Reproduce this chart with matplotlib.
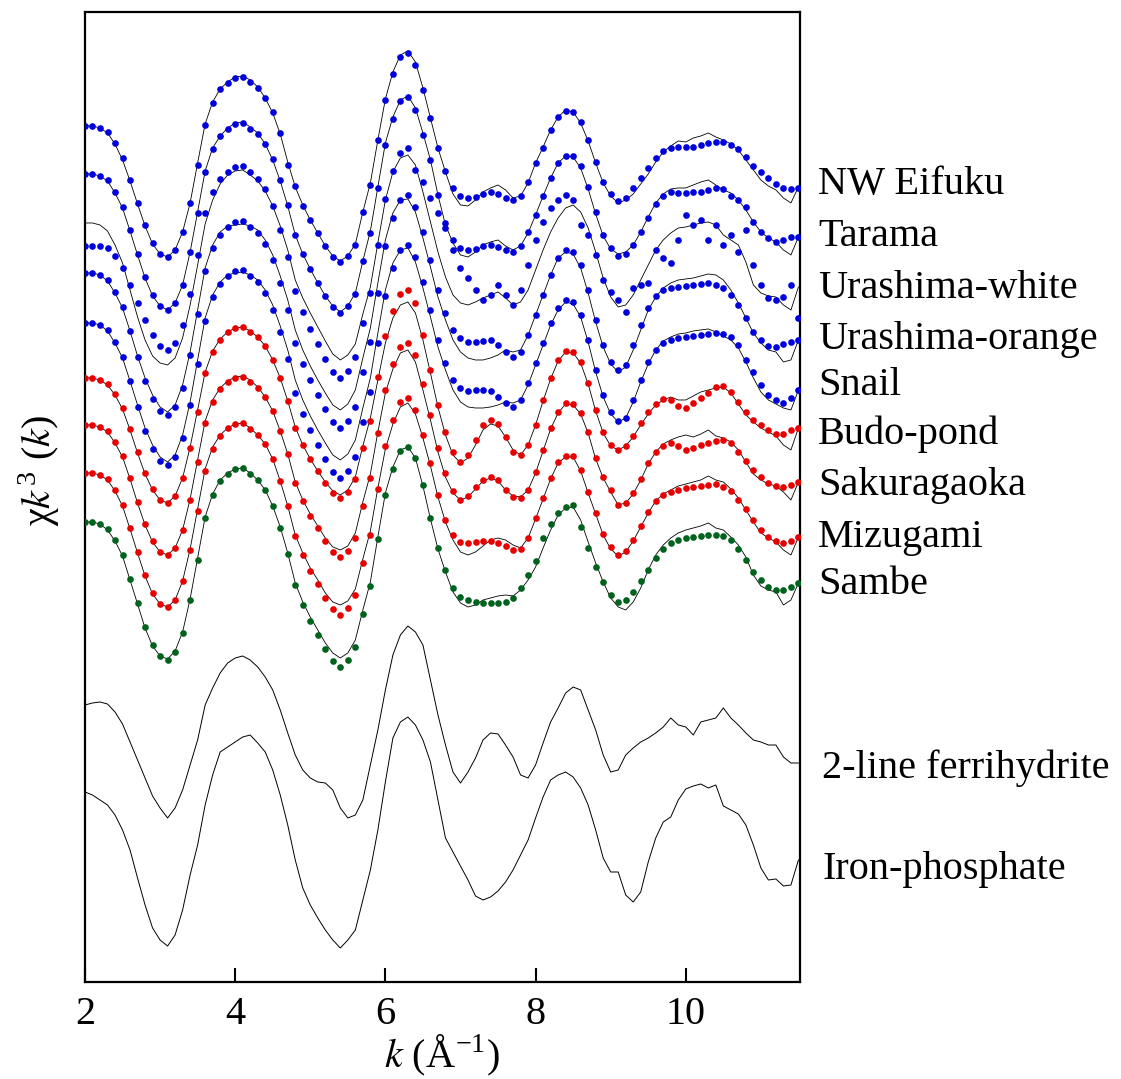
import numpy as np
import matplotlib.pyplot as plt

plt.rcParams['font.family'] = ['Liberation Serif', 'DejaVu Serif']
plt.rcParams['mathtext.fontset'] = 'stix'

# k grid (1/Angstrom)
k = np.round(np.arange(2.0, 11.55, 0.1), 2)

# stacked chi*k^3 traces (arbitrary units, offsets included,
# counted downward like the original page)
eifuku = [126, 126, 128, 132, 143, 158, 180, 203, 225, 243,
          254, 257, 250, 232, 203, 165, 125, 103, 89, 83,
          78, 77, 82, 88, 98, 112, 133, 165, 186, 206,
          220, 233, 246, 257, 262, 256, 245, 212, 185, 140,
          100, 74, 57, 53, 65, 90, 118, 148, 171, 188,
          196, 198, 197, 194, 192, 194, 198, 200, 196, 182,
          163, 148, 130, 117, 111, 112, 122, 140, 162, 182,
          194, 201, 198, 188, 178, 168, 158, 151, 148, 147,
          147, 147, 145, 143, 142, 142, 145, 149, 157, 166,
          172, 178, 184, 188, 189, 188]
eifuku_fit = [126, 126, 128, 133, 144, 160, 181, 204, 226, 244,
              254, 257, 250, 232, 203, 163, 124, 102, 89, 82,
              77, 76, 80, 87, 98, 113, 134, 162, 187, 205,
              220, 233, 246, 256, 261, 256, 244, 212, 183, 140,
              99, 72, 55, 51, 62, 88, 118, 148, 172, 194,
              205, 206, 200, 192, 188, 185, 190, 198, 196, 183,
              163, 147, 130, 117, 110, 112, 123, 141, 163, 183,
              196, 203, 200, 194, 184, 174, 162, 152, 146, 141,
              142, 138, 136, 133, 137, 140, 144, 150, 160, 170,
              180, 186, 190, 198, 203, 187]

tarama = [174, 174, 176, 180, 192, 207, 230, 254, 277, 295,
          306, 310, 303, 285, 252, 213, 172, 149, 136, 129,
          124, 123, 129, 134, 144, 159, 180, 205, 235, 254,
          269, 283, 296, 307, 313, 306, 294, 261, 233, 188,
          145, 119, 101, 97, 110, 135, 160, 195, 223, 240,
          248, 250, 249, 246, 245, 247, 250, 252, 246, 232,
          215, 196, 178, 163, 156, 156, 166, 187, 212, 235,
          248, 256, 254, 245, 232, 218, 204, 196, 192, 193,
          193, 192, 192, 190, 188, 189, 196, 200, 207, 222,
          232, 238, 242, 240, 237, 237]
tarama_fit = [174, 174, 176, 181, 193, 208, 231, 255, 278, 296,
              306, 310, 303, 285, 252, 212, 171, 148, 136, 128,
              123, 122, 127, 133, 144, 160, 181, 206, 235, 254,
              269, 283, 296, 306, 312, 306, 293, 261, 231, 187,
              143, 117, 100, 96, 108, 133, 160, 195, 225, 243,
              255, 257, 252, 245, 242, 240, 246, 250, 246, 233,
              215, 196, 178, 163, 156, 157, 168, 189, 214, 236,
              249, 254, 252, 245, 232, 217, 203, 194, 189, 188,
              188, 185, 182, 180, 185, 190, 193, 200, 210, 222,
              232, 238, 242, 250, 255, 237]

u_white = [246, 246, 246, 248, 256, 268, 285, 303, 320, 335,
           346, 350, 343, 325, 294, 255, 213, 192, 179, 172,
           167, 166, 172, 179, 189, 206, 230, 257, 291, 312,
           329, 344, 359, 372, 378, 371, 357, 323, 293, 245,
           199, 171, 153, 148, 170, 182, 198, 213, 228, 250,
           268, 278, 290, 300, 295, 285, 295, 305, 290, 265,
           240, 222, 208, 200, 195, 200, 225, 235, 255, 280,
           292, 300, 312, 288, 285, 283, 250, 258, 263, 240,
           215, 225, 220, 240, 225, 245, 235, 252, 230, 265,
           285, 298, 300, 297, 285, 318]
u_white_fit = [223, 223, 225, 231, 245, 263, 290, 317, 340, 356,
               363, 365, 358, 338, 305, 265, 224, 200, 184, 175,
               171, 170, 175, 181, 191, 206, 226, 250, 280, 298,
               313, 327, 341, 354, 360, 355, 344, 314, 287, 243,
               200, 172, 158, 155, 165, 192, 222, 252, 277, 295,
               303, 305, 302, 298, 295, 292, 298, 305, 302, 290,
               270, 250, 232, 218, 208, 205, 212, 228, 252, 278,
               297, 307, 305, 295, 280, 265, 250, 240, 233, 228,
               227, 225, 223, 222, 225, 235, 240, 245, 262, 285,
               293, 296, 297, 305, 310, 287]

u_orange = [273, 273, 275, 280, 292, 307, 331, 357, 381, 399,
            411, 415, 407, 388, 355, 314, 271, 248, 235, 227,
            222, 221, 227, 233, 244, 260, 283, 310, 343, 364,
            380, 395, 409, 422, 428, 421, 407, 372, 342, 293,
            246, 218, 200, 195, 207, 232, 260, 290, 313, 330,
            338, 342, 342, 341, 340, 345, 352, 357, 352, 335,
            315, 295, 275, 258, 250, 252, 265, 290, 320, 345,
            362, 370, 365, 345, 325, 308, 296, 290, 288, 287,
            286, 285, 284, 283, 285, 288, 295, 305, 318, 332,
            340, 346, 347, 344, 342, 340]
u_orange_fit = [273, 273, 275, 281, 293, 308, 331, 356, 378, 395,
                407, 412, 405, 385, 352, 310, 268, 245, 232, 226,
                225, 224, 226, 230, 240, 255, 276, 300, 330, 350,
                366, 380, 393, 405, 410, 404, 390, 358, 328, 283,
                240, 213, 200, 199, 212, 238, 267, 297, 320, 340,
                352, 358, 360, 360, 358, 355, 350, 352, 350, 335,
                315, 295, 275, 258, 252, 254, 268, 293, 322, 347,
                364, 372, 367, 350, 330, 310, 297, 288, 283, 280,
                279, 278, 276, 274, 275, 280, 290, 303, 318, 333,
                343, 350, 352, 362, 360, 340]

snail = [323, 323, 325, 330, 342, 357, 381, 407, 431, 449,
         461, 465, 457, 438, 405, 364, 321, 297, 284, 276,
         271, 270, 276, 282, 293, 310, 332, 359, 393, 414,
         430, 445, 459, 472, 478, 471, 457, 422, 392, 343,
         296, 268, 250, 245, 257, 282, 310, 340, 363, 380,
         388, 391, 390, 390, 391, 397, 403, 407, 400, 383,
         363, 343, 323, 308, 300, 302, 315, 340, 370, 395,
         412, 421, 418, 400, 380, 362, 350, 343, 340, 338,
         337, 336, 335, 334, 333, 334, 337, 345, 360, 372,
         385, 395, 400, 403, 398, 390]
snail_fit = [323, 323, 325, 331, 343, 358, 381, 405, 428, 445,
             457, 462, 455, 435, 402, 360, 318, 295, 282, 275,
             273, 272, 275, 280, 290, 305, 326, 350, 380, 400,
             416, 430, 443, 455, 460, 454, 440, 408, 378, 333,
             290, 263, 250, 248, 262, 288, 317, 347, 370, 390,
             402, 407, 408, 408, 407, 405, 402, 403, 400, 385,
             365, 345, 325, 310, 302, 304, 317, 342, 372, 397,
             414, 422, 418, 402, 382, 364, 350, 341, 337, 334,
             333, 331, 330, 329, 332, 336, 340, 348, 362, 378,
             392, 400, 404, 408, 410, 390]

budo = [378, 378, 380, 384, 394, 408, 429, 452, 473, 489,
        500, 503, 496, 478, 448, 412, 373, 352, 340, 332,
        328, 327, 332, 337, 346, 360, 378, 401, 428, 445,
        459, 471, 483, 493, 498, 492, 479, 448, 421, 377,
        336, 311, 294, 290, 303, 335, 370, 405, 432, 452,
        462, 455, 440, 425, 420, 424, 437, 452, 455, 445,
        425, 400, 378, 360, 351, 352, 362, 383, 410, 432,
        445, 450, 446, 436, 423, 412, 404, 399, 400, 406,
        408, 403, 398, 393, 387, 386, 392, 402, 412, 420,
        425, 430, 434, 434, 430, 428]
budo_fit = [378, 378, 380, 385, 395, 409, 430, 453, 474, 490,
            500, 503, 496, 478, 447, 410, 372, 351, 339, 332,
            328, 327, 331, 337, 346, 360, 378, 401, 427, 445,
            459, 471, 482, 491, 495, 490, 477, 446, 418, 380,
            343, 318, 305, 302, 313, 340, 373, 407, 435, 455,
            463, 458, 445, 430, 424, 426, 437, 450, 455, 445,
            425, 401, 379, 361, 352, 353, 363, 384, 411, 433,
            446, 450, 446, 437, 425, 414, 405, 400, 397, 400,
            400, 396, 392, 390, 388, 387, 393, 404, 415, 422,
            428, 432, 436, 445, 450, 428]

sakura = [425, 425, 427, 431, 442, 456, 478, 502, 524, 541,
          552, 555, 548, 530, 500, 462, 423, 402, 389, 382,
          378, 377, 382, 388, 397, 411, 431, 454, 483, 501,
          516, 528, 541, 552, 557, 551, 538, 506, 478, 433,
          390, 364, 347, 343, 355, 384, 415, 448, 473, 491,
          500, 496, 487, 480, 477, 480, 490, 497, 498, 490,
          472, 450, 428, 412, 403, 404, 413, 432, 458, 477,
          490, 505, 503, 493, 479, 463, 452, 446, 443, 446,
          450, 448, 445, 443, 441, 440, 443, 452, 461, 470,
          477, 483, 486, 487, 485, 482]
sakura_fit = [425, 425, 427, 432, 443, 457, 479, 503, 525, 542,
              552, 555, 548, 530, 499, 460, 421, 400, 388, 381,
              377, 376, 380, 387, 397, 411, 431, 454, 482, 500,
              514, 526, 538, 547, 550, 546, 533, 502, 474, 432,
              393, 369, 353, 350, 362, 390, 420, 452, 477, 493,
              500, 497, 489, 481, 478, 481, 490, 496, 497, 490,
              473, 451, 429, 413, 404, 405, 414, 433, 459, 478,
              492, 505, 503, 494, 480, 464, 452, 444, 440, 437,
              435, 437, 434, 430, 436, 438, 442, 450, 462, 474,
              480, 484, 486, 492, 500, 482]

mizugami = [473, 473, 475, 479, 490, 505, 528, 552, 575, 593,
            604, 607, 600, 581, 550, 511, 471, 449, 436, 428,
            424, 423, 429, 435, 444, 459, 481, 506, 536, 555,
            571, 584, 598, 609, 615, 608, 595, 563, 535, 489,
            446, 420, 402, 398, 410, 435, 463, 495, 520, 535,
            542, 543, 542, 541, 541, 543, 546, 550, 549, 538,
            518, 498, 478, 462, 456, 456, 470, 492, 513, 534,
            547, 555, 551, 540, 526, 512, 501, 495, 492, 490,
            488, 487, 486, 485, 484, 487, 491, 500, 509, 520,
            530, 537, 541, 543, 541, 537]
mizugami_fit = [473, 473, 475, 480, 491, 506, 529, 553, 576, 594,
                604, 607, 600, 581, 549, 509, 469, 447, 435, 428,
                424, 423, 428, 435, 444, 459, 481, 506, 535, 553,
                568, 580, 593, 602, 605, 601, 589, 559, 531, 488,
                449, 424, 407, 403, 414, 438, 466, 497, 522, 540,
                552, 555, 552, 546, 540, 538, 540, 545, 548, 538,
                519, 499, 479, 463, 457, 457, 471, 493, 514, 535,
                549, 556, 552, 541, 527, 513, 501, 494, 490, 486,
                484, 482, 480, 476, 480, 482, 489, 498, 510, 522,
                533, 538, 542, 550, 555, 537]

sambe = [522, 522, 524, 529, 540, 555, 579, 603, 627, 645,
         656, 660, 652, 633, 600, 560, 518, 495, 481, 474,
         469, 468, 474, 480, 490, 506, 528, 554, 585, 605,
         621, 635, 649, 661, 667, 660, 647, 614, 586, 539,
         495, 469, 451, 447, 458, 485, 518, 548, 570, 588,
         597, 600, 602, 603, 603, 603, 602, 598, 588, 575,
         561, 538, 524, 513, 507, 505, 527, 548, 567, 582,
         595, 602, 600, 592, 581, 570, 558, 549, 543, 540,
         538, 537, 536, 535, 535, 536, 540, 549, 560, 572,
         580, 587, 590, 590, 587, 583]
sambe_fit = [522, 522, 524, 530, 541, 556, 580, 604, 628, 646,
             656, 659, 651, 632, 599, 558, 517, 494, 480, 473,
             469, 468, 473, 480, 490, 506, 527, 553, 583, 602,
             617, 630, 643, 653, 658, 653, 640, 610, 582, 537,
             493, 467, 450, 447, 458, 486, 519, 549, 572, 592,
             603, 607, 605, 600, 598, 596, 595, 596, 590, 580,
             567, 548, 530, 515, 508, 507, 520, 542, 563, 582,
             598, 607, 610, 602, 588, 570, 555, 545, 538, 533,
             530, 528, 526, 523, 528, 530, 537, 545, 557, 575,
             586, 590, 592, 605, 600, 583]

ferrihydrite = [705, 703, 702, 704, 712, 724, 742, 760, 778, 796,
                808, 818, 808, 790, 765, 740, 705, 688, 673, 663,
                658, 656, 660, 667, 677, 690, 710, 733, 755, 770,
                778, 782, 783, 790, 808, 818, 815, 800, 765, 730,
                690, 655, 635, 626, 632, 645, 680, 715, 745, 772,
                783, 772, 758, 740, 733, 734, 745, 757, 775, 778,
                765, 743, 722, 708, 693, 687, 690, 710, 730, 755,
                772, 770, 755, 748, 742, 738, 733, 727, 718, 725,
                727, 735, 722, 720, 718, 708, 718, 725, 733, 740,
                742, 745, 745, 757, 763, 763]
iron_phosphate = [792, 795, 800, 805, 815, 830, 850, 878, 905, 928,
                  940, 946, 935, 910, 875, 845, 805, 775, 752, 747,
                  742, 737, 735, 743, 752, 770, 795, 825, 860, 888,
                  905, 918, 930, 940, 948, 940, 930, 900, 870, 830,
                  782, 738, 722, 717, 725, 740, 762, 800, 838, 852,
                  866, 880, 896, 900, 897, 891, 882, 870, 855, 840,
                  818, 797, 780, 775, 772, 777, 788, 805, 830, 858,
                  872, 872, 895, 902, 892, 862, 838, 822, 817, 800,
                  789, 786, 784, 788, 785, 806, 810, 814, 825, 845,
                  868, 880, 879, 886, 885, 860]

names = ['NW Eifuku', 'Tarama', 'Urashima-white', 'Urashima-orange', 'Snail',
         'Budo-pond', 'Sakuragaoka', 'Mizugami', 'Sambe']
data = [eifuku, tarama, u_white, u_orange, snail, budo, sakura, mizugami, sambe]
fits = [eifuku_fit, tarama_fit, u_white_fit, u_orange_fit, snail_fit,
        budo_fit, sakura_fit, mizugami_fit, sambe_fit]
ref_names = ['2-line ferrihydrite', 'Iron-phosphate']
refs = [ferrihydrite, iron_phosphate]

# styling / placement
blue, red, green = '#0000dd', '#e80000', '#00621c'
colors = [blue] * 5 + [red] * 3 + [green]
label_y = [185, 237, 289, 340, 386, 434, 486, 538, 585]
ref_label_y = [768, 870]

fig = plt.figure(figsize=(11.21, 10.79), dpi=100)
ax = fig.add_axes([0.0758, 0.0899, 0.6378, 0.899])

for y, f, c in zip(data, fits, colors):
    ax.plot(k, f, color='k', lw=0.6, zorder=2)
    ax.plot(k, y, 'o', color=c, ms=4.8, mec='none', zorder=3)
for r in refs:
    ax.plot(k, r, color='k', lw=0.7)

tr = ax.get_yaxis_transform()
for name, ly in zip(names, label_y):
    ax.text(1.025, ly, name, transform=tr, fontsize=29, va='center', ha='left')
for name, ly in zip(ref_names, ref_label_y):
    ax.text(1.031, ly, name, transform=tr, fontsize=29, va='center', ha='left')

ax.set_xlim(2, 11.52)
ax.set_ylim(982, 12)
ax.set_xticks([2, 4, 6, 8, 10])
ax.set_yticks([])
ax.tick_params(axis='x', direction='in', length=10, width=1.5, labelsize=29, pad=10)
for s in ax.spines.values():
    s.set_linewidth(1.6)

ax.set_xlabel(r'$k$ (Å$^{\mathregular{-1}}$)', fontsize=29, labelpad=0)
ax.set_ylabel(r'χ$k^{\mathregular{3}}$ ($k$)', fontsize=29)
ax.yaxis.set_label_coords(-0.032, 0.528)

fig.savefig('out.png', dpi=100)
